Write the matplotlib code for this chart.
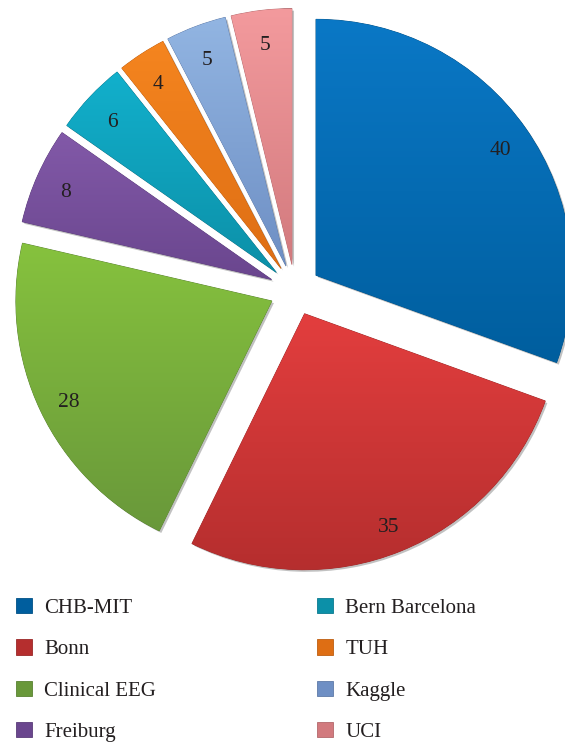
import numpy as np
import matplotlib
matplotlib.use("Agg")
import matplotlib.pyplot as plt
from matplotlib.colors import LinearSegmentedColormap, to_rgb
from matplotlib import patheffects as pe
from matplotlib.transforms import offset_copy

# ---- data ----
names = ["CHB-MIT", "Bonn", "Clinical EEG", "Freiburg",
         "Bern Barcelona", "TUH", "Kaggle", "UCI"]
values = [40, 35, 28, 8, 6, 4, 5, 5]
top_colors = ["#0A78C6", "#E33E3E", "#86C23E", "#8259A8",
              "#12B0CC", "#F5851F", "#92B5E2", "#F39A9D"]
bottom_colors = ["#005E9E", "#B52E2E", "#69983A", "#6A468E",
                 "#0C90A8", "#DE6E14", "#6E8FC4", "#D27A7E"]

W, H = 565, 744
fig = plt.figure(figsize=(W / 100, H / 100), dpi=100)
ax = fig.add_axes([0, 0, 1, 1])

R = 256
cx, cy = 295, H - 290
total = sum(values)

wedges, texts, autotexts = ax.pie(
    values, startangle=90, counterclock=False, radius=R, center=(cx, cy),
    explode=[0.1 * R] * len(values), colors=bottom_colors,
    autopct=lambda p: f"{round(p * total / 100)}", pctdistance=0.88,
    wedgeprops=dict(linewidth=0.6),
    textprops=dict(family="Liberation Serif", fontsize=15.5, color="#231F20"),
)

for w, ct, cb in zip(wedges, top_colors, bottom_colors):
    w.set_edgecolor(tuple(c * 0.85 for c in to_rgb(cb)))
    w.set_path_effects([pe.SimplePatchShadow(offset=(1.5, -1.5), shadow_rgbFace="#777777", alpha=0.45),
                        pe.Normal()])
    verts = w.get_path().vertices
    x0, x1 = verts[:, 0].min(), verts[:, 0].max()
    y0, y1 = verts[:, 1].min(), verts[:, 1].max()
    cmap = LinearSegmentedColormap.from_list("g", [cb, ct])
    grad = np.linspace(0, 1, 256).reshape(-1, 1)
    im = ax.imshow(grad, extent=[x0, x1, y0, y1], origin="lower", cmap=cmap,
                   aspect="auto", zorder=w.get_zorder() + 0.1, interpolation="bicubic")
    im.set_clip_path(w)

for t in autotexts:
    t.set_zorder(5)
    t.set_transform(offset_copy(ax.transData, fig=fig, x=0, y=-5, units="dots"))

ax.set_xlim(0, W)
ax.set_ylim(0, H)
ax.set_aspect("equal")
ax.axis("off")

leg_kw = dict(loc="upper left", frameon=False, borderpad=0, borderaxespad=0,
              handlelength=0.75, handleheight=0.75, handletextpad=0.6,
              labelspacing=1.03, prop=dict(family="Liberation Serif", size=15),
              labelcolor="#231F20")
leg1 = fig.legend(wedges[:4], names[:4], bbox_to_anchor=(16 / W, 1 - 598 / H), **leg_kw)
leg2 = fig.legend(wedges[4:], names[4:], bbox_to_anchor=(317 / W, 1 - 598 / H), **leg_kw)
for leg in (leg1, leg2):
    for h in leg.legend_handles:
        h.set_path_effects([])

fig.savefig("out.png", dpi=100)
